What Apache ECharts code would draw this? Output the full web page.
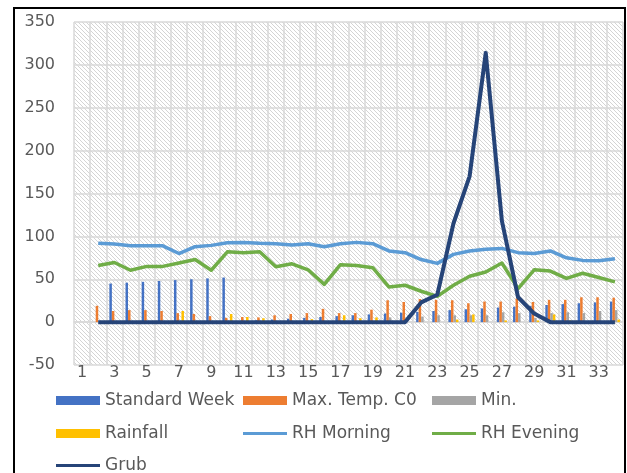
<!DOCTYPE html>
<html>
<head>
<meta charset="utf-8">
<script src="https://cdn.jsdelivr.net/npm/echarts@6/dist/echarts.min.js"></script>
<style>
html,body{margin:0;padding:0;background:#fff;}
#c{width:627px;height:473px;}
</style>
</head>
<body>
<div id="c"></div>
<script>
const categories = ['1','2','3','4','5','6','7','8','9','10','11','12','13','14','15','16','17','18','19','20','21','22','23','24','25','26','27','28','29','30','31','32','33','34'];
const standardWeek = [null,null,45,46,47,48,49,50,51,52,1,2,3,4,5,6,7,8,9,10,11,12,13,14,15,16,17,18,19,20,21,22,23,24];
const maxTemp = [null,19,13,14,14,13,10.5,9.5,7,5,6,5.5,8,9.5,10.5,15.5,10.5,10.5,14.5,25.5,23.5,27,26,25.5,22,24,24,27.5,23.5,26,26,29,29,28.5];
const minTemp = [null,null,null,null,null,null,null,null,null,null,null,null,null,null,null,null,null,null,null,5.5,1,6.5,8,8,8,8,11.5,10.5,5,10.5,11.5,10.5,13,14];
const rainfall = [null,null,null,null,null,null,13,null,null,9.5,6,4.5,null,null,3.5,null,8,4.5,5.5,null,null,null,null,3,9,null,2,null,2,9,2,null,null,3];
const rhMorning = [null,92,91,89,89,89,80,88,89.5,92.5,93,92,91.5,90,91.5,88,91.5,93,91.5,83,81,73,68.5,79,83,85,86,81,80,83,75,72,71.5,74];
const rhEvening = [null,66,69.5,60.5,65,65,69,73,60.5,82,81,82,64.5,68,61,44,67,66,63.5,41,43,36,30,43,53.5,58.5,69,39,61,59.5,51,57,52,47];
const grub = [null,0,0,0,0,0,0,0,0,0,0,0,0,0,0,0,0,0,0,0,0,23,32,115,170,314,118,29,10,0,0,0,0,0];
const yTicks = {min:-50, max:350, interval:50};

function makeHatch(){
  const c = document.createElement('canvas'); c.width=4; c.height=4;
  const g = c.getContext('2d');
  g.fillStyle='#ffffff'; g.fillRect(0,0,4,4);
  g.strokeStyle='#d4d4d4'; g.lineWidth=1;
  g.beginPath(); g.moveTo(-1,-1); g.lineTo(5,5); g.stroke();
  g.beginPath(); g.moveTo(3,-1); g.lineTo(5,1); g.stroke();
  g.beginPath(); g.moveTo(-1,3); g.lineTo(1,5); g.stroke();
  return c;
}

const txt = '#595959';
const font = 'DejaVu Sans';
const chart = echarts.init(document.getElementById('c'), null, {renderer:'canvas'});

function leg(name, left, top, h){
  return {data:[name], left:left, top:top, itemWidth:44, itemHeight:h, icon:'rect',
    textStyle:{color:txt, fontFamily:font, fontSize:17}, selectedMode:false, padding:0};
}

chart.setOption({
  animation:false,
  backgroundColor:'#ffffff',
  graphic:[{type:'rect', shape:{x:14,y:8,width:611,height:480}, style:{fill:'none', stroke:'#000', lineWidth:2}, z:100}],
  grid:{left:74, right:4, top:22, bottom:108, show:true, borderWidth:0,
    backgroundColor:{image:makeHatch(), repeat:'repeat'}},
  legend:[
    leg('Standard Week',56,392,9),
    leg('Max. Temp. C0',243,392,9),
    leg('Min.',432,392,9),
    leg('Rainfall',56,425,9),
    leg('RH Morning',243,425,3),
    leg('RH Evening',432,425,3),
    leg('Grub',56,457,3)
  ],
  xAxis:{type:'category', data:categories, boundaryGap:true,
    axisLine:{show:true, onZero:true, lineStyle:{color:'#d9d9d9', width:1.5}},
    axisTick:{show:false},
    axisLabel:{interval:1, color:txt, fontFamily:font, fontSize:16, margin:0},
    splitLine:{show:true, interval:0, lineStyle:{color:'#d9d9d9', width:1.5}}},
  yAxis:{type:'value', min:yTicks.min, max:yTicks.max, interval:yTicks.interval,
    axisLine:{show:false}, axisTick:{show:false},
    axisLabel:{color:txt, fontFamily:font, fontSize:16, margin:19},
    splitLine:{show:true, lineStyle:{color:'#d9d9d9', width:1.5}}},
  series:[
    {name:'Standard Week', type:'bar', data:standardWeek, itemStyle:{color:'#4472C4'}, barGap:'0%', barCategoryGap:'38%'},
    {name:'Max. Temp. C0', type:'bar', data:maxTemp, itemStyle:{color:'#ED7D31'}},
    {name:'Min.', type:'bar', data:minTemp, itemStyle:{color:'#A5A5A5'}},
    {name:'Rainfall', type:'bar', data:rainfall, itemStyle:{color:'#FFC000'}},
    {name:'RH Morning', type:'line', data:rhMorning, showSymbol:false, symbol:'none', itemStyle:{color:'#5B9BD5'}, lineStyle:{color:'#5B9BD5', width:3.5, join:'round'}},
    {name:'RH Evening', type:'line', data:rhEvening, showSymbol:false, symbol:'none', itemStyle:{color:'#70AD47'}, lineStyle:{color:'#70AD47', width:3.5, join:'round'}},
    {name:'Grub', type:'line', data:grub, showSymbol:false, symbol:'none', itemStyle:{color:'#264478'}, lineStyle:{color:'#264478', width:4, join:'round'}}
  ]
});
</script>
</body>
</html>
